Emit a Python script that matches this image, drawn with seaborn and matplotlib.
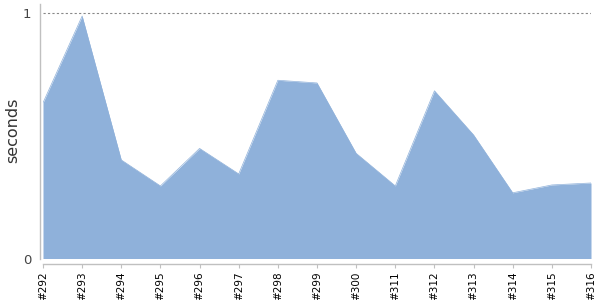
import matplotlib
matplotlib.use("Agg")
import matplotlib.pyplot as plt
import seaborn as sns
import numpy as np
import pandas as pd

builds = ["#292", "#293", "#294", "#295", "#296", "#297", "#298", "#299",
          "#300", "#311", "#312", "#313", "#314", "#315", "#316"]
seconds = [0.635, 0.989, 0.402, 0.296, 0.449, 0.345, 0.727, 0.716,
           0.429, 0.296, 0.684, 0.504, 0.268, 0.300, 0.308]
yticks = [0, 1]
ytick_labels = ["0", "1"]

sns.set_style("white")
plt.rcParams['font.family'] = ['DejaVu Sans']

dpi = 100
fig = plt.figure(figsize=(6, 3), dpi=dpi)
ax = fig.add_axes([43/600, 1-258.5/300, (591-43)/600, (258.5-4)/300])

df = pd.DataFrame({"pos": np.arange(len(builds)), "seconds": seconds})
color = "#8fb1da"
sns.lineplot(data=df, x="pos", y="seconds", ax=ax, color=color, linewidth=0.5)
ax.fill_between(df["pos"], 0, df["seconds"], color=color, linewidth=0)

ax.set_xlim(0, len(builds) - 1)
ax.set_ylim(0, 1.038)
ax.axhline(1, color="#888888", linestyle=(0, (2, 2)), linewidth=0.8, zorder=0)

for s in ["top", "right"]:
    ax.spines[s].set_visible(False)
ax.spines["left"].set_position(("outward", 3.5 * 72 / dpi))
ax.spines["bottom"].set_position(("outward", 5 * 72 / dpi))
for s in ["left", "bottom"]:
    ax.spines[s].set_color("#c0c0c0")
    ax.spines[s].set_linewidth(1.0)
ax.tick_params(axis="x", length=3, width=0.8, color="#c0c0c0", pad=3, bottom=True,
               labelrotation=90, labelsize=7.5, labelcolor="#000000")
ax.tick_params(axis="y", length=0, pad=6, labelsize=9.5, labelcolor="#444444")

ax.set_xticks(df["pos"])
ax.set_xticklabels(builds)
ax.set_yticks(yticks)
ax.set_yticklabels(ytick_labels)
ax.set_xlabel("")
ax.set_ylabel("seconds", fontsize=11.5, color="#333333")
ax.yaxis.set_label_coords(-30/548, 0.5 * (258.5 - 130) / 254.5 + 0.0)
ax.yaxis.label.set_verticalalignment("center")
ax.yaxis.set_label_coords((13 - 43) / 548, (258.5 - 130) / 254.5)

fig.savefig("out.png", dpi=dpi)
